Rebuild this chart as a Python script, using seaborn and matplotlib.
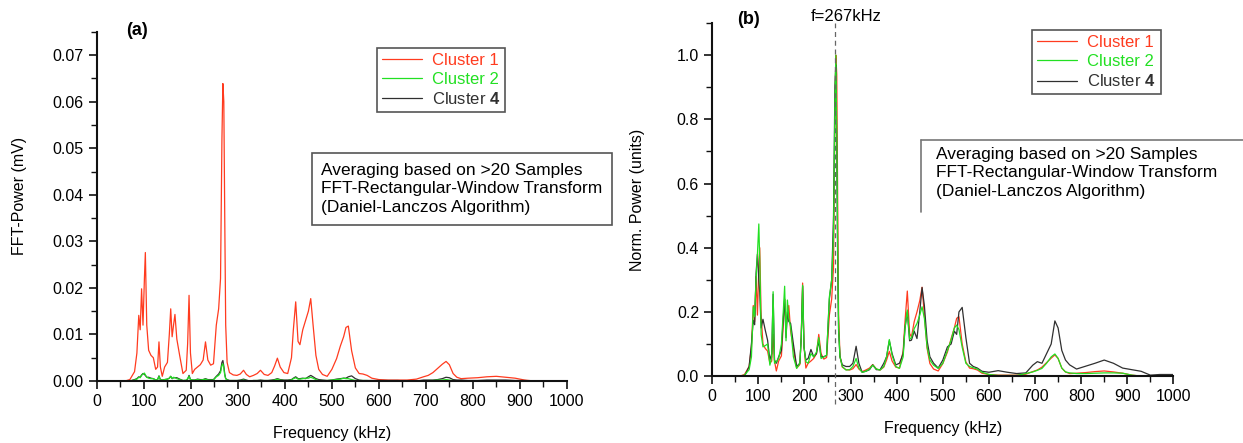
import numpy as np
import pandas as pd
import matplotlib
matplotlib.use("Agg")
import matplotlib.pyplot as plt
from matplotlib.ticker import MultipleLocator
from matplotlib.lines import Line2D
import seaborn as sns

# ---------------- data ----------------
freq_khz = [
    0, 60, 70, 80, 85, 89, 92, 95, 98, 101,
    103, 106, 110, 115, 120, 125, 129, 132, 135, 139,
    144, 150, 154, 157, 160, 163, 166, 170, 176, 183,
    190, 193, 196, 199, 203, 208, 214, 220, 226, 231,
    236, 242, 248, 254, 259, 263, 266, 268, 270, 272,
    274, 277, 282, 290, 298, 305, 312, 318, 325, 333,
    341, 348, 356, 364, 372, 378, 384, 390, 398, 406,
    414, 418, 423, 428, 432, 438, 444, 450, 455, 460,
    466, 472, 480, 490, 500, 510, 518, 525, 530, 535,
    542, 550, 558, 566, 575, 585, 600, 620, 640, 660,
    680, 695, 705, 715, 725, 735, 743, 750, 758, 766,
    775, 790, 810, 830, 850, 870, 890, 910, 930, 950,
    970, 1000,
]

# Panel (a): FFT power (mV)
cluster1_power = [
    0, 0, 0.0003, 0.002, 0.006, 0.0141, 0.011, 0.0198, 0.012, 0.022,
    0.0276, 0.012, 0.0066, 0.0055, 0.005, 0.0025, 0.003, 0.0084, 0.003, 0.001,
    0.003, 0.004, 0.010, 0.0155, 0.0095, 0.012, 0.0143, 0.009, 0.0055, 0.0016,
    0.0023, 0.008, 0.0184, 0.006, 0.0016, 0.0025, 0.003, 0.0035, 0.0045, 0.0084,
    0.0045, 0.0034, 0.0037, 0.012, 0.0155, 0.022, 0.052, 0.0639, 0.060, 0.035,
    0.012, 0.004, 0.0018, 0.0013, 0.0012, 0.0015, 0.0023, 0.0014, 0.0009, 0.0012,
    0.0016, 0.0023, 0.0014, 0.0012, 0.0018, 0.0032, 0.0049, 0.003, 0.0018, 0.0016,
    0.005, 0.011, 0.017, 0.0085, 0.0078, 0.011, 0.013, 0.015, 0.0177, 0.012,
    0.0055, 0.0025, 0.0014, 0.001, 0.0025, 0.0048, 0.0075, 0.0095, 0.0115, 0.0118,
    0.0065, 0.0028, 0.0016, 0.0015, 0.0012, 0.0006, 0.0003, 0.0002, 0.0002, 0.0002,
    0.0004, 0.0009, 0.0012, 0.0018, 0.0027, 0.0036, 0.0042, 0.0035, 0.0016, 0.0008,
    0.0005, 0.0006, 0.0007, 0.0009, 0.001, 0.0008, 0.0006, 0.0002, 0, 0,
    0, 0,
]
cluster2_power = [
    0, 0, 0, 0.0002, 0.0004, 0.0008, 0.0007, 0.0012, 0.0015, 0.0017,
    0.0013, 0.0008, 0.0006, 0.0005, 0.0005, 0.0002, 0.0003, 0.001, 0.0002, 0.0002,
    0.0003, 0.0004, 0.0006, 0.001, 0.0005, 0.0008, 0.0007, 0.0005, 0.0003, 0.0001,
    0.0002, 0.0005, 0.001, 0.0003, 0.0002, 0.0002, 0.0003, 0.0002, 0.0003, 0.0004,
    0.0002, 0.0002, 0.0002, 0.0009, 0.0012, 0.0018, 0.0034, 0.0037, 0.0028, 0.0012,
    0.0005, 0.0002, 0.0001, 0.0001, 0.0001, 0.0001, 0.0002, 0.0001, 0, 0.0001,
    0.0001, 0.0001, 0.0001, 0.0001, 0.0001, 0.0002, 0.0004, 0.0002, 0.0001, 0.0001,
    0.0002, 0.0005, 0.0007, 0.0004, 0.0004, 0.0005, 0.0006, 0.0006, 0.0008, 0.0006,
    0.0003, 0.0001, 0.0001, 0.0001, 0.0002, 0.0003, 0.0004, 0.0006, 0.0005, 0.0005,
    0.0003, 0.0001, 0.0001, 0.0001, 0.0001, 0, 0, 0, 0, 0,
    0, 0, 0.0001, 0.0001, 0.0002, 0.0002, 0.0003, 0.0002, 0.0001, 0,
    0, 0, 0, 0, 0, 0, 0, 0, 0, 0,
    0, 0,
]
cluster4_power = [
    0, 0, 0, 0.0003, 0.0005, 0.0009, 0.0008, 0.0013, 0.0016, 0.0014,
    0.0012, 0.0008, 0.0008, 0.0006, 0.0005, 0.0002, 0.0003, 0.0011, 0.0003, 0.0002,
    0.0003, 0.0004, 0.0006, 0.001, 0.0005, 0.0007, 0.0007, 0.0007, 0.0004, 0.0001,
    0.0001, 0.0004, 0.0012, 0.0003, 0.0002, 0.0002, 0.0004, 0.0003, 0.0003, 0.0005,
    0.0003, 0.0003, 0.0003, 0.001, 0.0015, 0.0022, 0.004, 0.0044, 0.0032, 0.0015,
    0.0005, 0.0003, 0.0001, 0.0001, 0.0001, 0.0002, 0.0004, 0.0002, 0, 0.0001,
    0.0001, 0.0002, 0.0001, 0.0001, 0.0002, 0.0003, 0.0005, 0.0003, 0.0002, 0.0002,
    0.0003, 0.0006, 0.0009, 0.0005, 0.0005, 0.0006, 0.0005, 0.0009, 0.0012, 0.0009,
    0.0005, 0.0003, 0.0002, 0.0001, 0.0002, 0.0004, 0.0005, 0.0006, 0.0006, 0.0009,
    0.0011, 0.0005, 0.0002, 0.0001, 0.0001, 0.0001, 0.0001, 0.0001, 0.0001, 0,
    0, 0.0002, 0.0002, 0.0002, 0.0003, 0.0005, 0.0008, 0.0007, 0.0003, 0.0002,
    0.0002, 0.0001, 0.0001, 0.0002, 0.0002, 0.0002, 0.0001, 0.0001, 0, 0,
    0, 0,
]

# Panel (b): normalised power (units)
cluster1_norm = [
    0, 0, 0.005, 0.03, 0.09, 0.22, 0.17, 0.31, 0.19, 0.34,
    0.40, 0.19, 0.10, 0.086, 0.078, 0.04, 0.047, 0.13, 0.047, 0.016,
    0.047, 0.063, 0.16, 0.24, 0.15, 0.19, 0.22, 0.14, 0.086, 0.025,
    0.036, 0.125, 0.29, 0.094, 0.025, 0.04, 0.047, 0.055, 0.07, 0.13,
    0.07, 0.053, 0.058, 0.19, 0.24, 0.34, 0.81, 1.0, 0.94, 0.55,
    0.19, 0.063, 0.028, 0.02, 0.019, 0.023, 0.036, 0.022, 0.014, 0.019,
    0.025, 0.036, 0.022, 0.019, 0.028, 0.05, 0.077, 0.047, 0.028, 0.025,
    0.078, 0.17, 0.265, 0.133, 0.122, 0.17, 0.2, 0.235, 0.277, 0.19,
    0.086, 0.039, 0.022, 0.016, 0.039, 0.075, 0.117, 0.15, 0.18, 0.185,
    0.10, 0.044, 0.025, 0.023, 0.019, 0.009, 0.005, 0.003, 0.003, 0.003,
    0.006, 0.014, 0.019, 0.028, 0.042, 0.056, 0.066, 0.055, 0.025, 0.013,
    0.008, 0.009, 0.011, 0.014, 0.016, 0.013, 0.009, 0.003, 0, 0,
    0, 0,
]
cluster2_norm = [
    0, 0, 0.003, 0.02, 0.06, 0.216, 0.185, 0.30, 0.38, 0.474,
    0.36, 0.13, 0.091, 0.095, 0.10, 0.034, 0.06, 0.263, 0.04, 0.045,
    0.055, 0.10, 0.20, 0.28, 0.11, 0.237, 0.18, 0.154, 0.06, 0.024,
    0.04, 0.12, 0.283, 0.09, 0.045, 0.04, 0.07, 0.06, 0.075, 0.12,
    0.055, 0.06, 0.065, 0.247, 0.30, 0.44, 0.85, 1.0, 0.76, 0.40,
    0.15, 0.06, 0.03, 0.019, 0.02, 0.03, 0.055, 0.025, 0.012, 0.015,
    0.022, 0.034, 0.022, 0.019, 0.03, 0.06, 0.114, 0.065, 0.03, 0.024,
    0.06, 0.15, 0.206, 0.115, 0.12, 0.148, 0.164, 0.19, 0.216, 0.18,
    0.09, 0.05, 0.034, 0.024, 0.04, 0.08, 0.112, 0.15, 0.159, 0.145,
    0.09, 0.04, 0.03, 0.026, 0.022, 0.012, 0.005, 0.002, 0.002, 0.002,
    0.008, 0.013, 0.018, 0.024, 0.04, 0.06, 0.069, 0.055, 0.025, 0.013,
    0.01, 0.008, 0.008, 0.009, 0.01, 0.01, 0.009, 0.003, 0, 0,
    0, 0,
]
cluster4_norm = [
    0, 0, 0, 0.03, 0.10, 0.174, 0.16, 0.32, 0.38, 0.30,
    0.26, 0.15, 0.177, 0.143, 0.112, 0.05, 0.07, 0.255, 0.05, 0.04,
    0.06, 0.08, 0.18, 0.24, 0.12, 0.20, 0.17, 0.164, 0.10, 0.03,
    0.04, 0.12, 0.28, 0.09, 0.05, 0.055, 0.083, 0.06, 0.07, 0.11,
    0.06, 0.06, 0.065, 0.24, 0.30, 0.50, 0.90, 0.97, 0.70, 0.35,
    0.14, 0.06, 0.035, 0.03, 0.03, 0.04, 0.093, 0.04, 0.012, 0.015,
    0.02, 0.035, 0.02, 0.02, 0.04, 0.06, 0.11, 0.07, 0.035, 0.04,
    0.07, 0.15, 0.20, 0.11, 0.112, 0.14, 0.117, 0.20, 0.276, 0.22,
    0.11, 0.06, 0.04, 0.025, 0.05, 0.091, 0.10, 0.14, 0.13, 0.20,
    0.214, 0.12, 0.04, 0.03, 0.025, 0.015, 0.012, 0.017, 0.012, 0.008,
    0.01, 0.034, 0.045, 0.04, 0.07, 0.10, 0.172, 0.15, 0.08, 0.05,
    0.035, 0.022, 0.031, 0.04, 0.05, 0.04, 0.025, 0.02, 0.015, 0.003,
    0.005, 0.005,
]

series_labels = ["Cluster 1", "Cluster 2", "Cluster $\\mathbf{4}$"]
peak_freq = 267
x_ticks = [0, 100, 200, 300, 400, 500, 600, 700, 800, 900, 1000]
info_text = ("Averaging based on >20 Samples\n"
             "FFT-Rectangular-Window Transform\n"
             "(Daniel-Lanczos Algorithm)")

# ---------------- style ----------------
sns.set_style("ticks")
plt.rcParams["font.family"] = ["Liberation Sans", "DejaVu Sans"]
plt.rcParams["mathtext.fontset"] = "custom"
plt.rcParams["mathtext.bf"] = "Liberation Sans:bold"
plt.rcParams["mathtext.rm"] = "Liberation Sans"
plt.rcParams["text.color"] = "black"
plt.rcParams["axes.labelcolor"] = "black"
plt.rcParams["xtick.color"] = "black"
plt.rcParams["ytick.color"] = "black"

RED = "#ff3b1f"
GREEN = "#22e022"
BLACK = "#303030"

fig = plt.figure(figsize=(12.43, 4.43), dpi=100)
ax_a = fig.add_axes([0.078, 0.140, 0.378, 0.788])
ax_b = fig.add_axes([0.573, 0.151, 0.371, 0.797])


def draw_panel(ax, y1, y2, y4):
    df = pd.DataFrame({"f": freq_khz, "c1": y1, "c2": y2, "c4": y4})
    sns.lineplot(data=df, x="f", y="c1", ax=ax, color=RED, lw=0.9,
                 estimator=None, sort=False)
    h1 = ax.lines[-1]
    sns.lineplot(data=df, x="f", y="c4", ax=ax, color=BLACK, lw=0.9,
                 estimator=None, sort=False)
    h4 = ax.lines[-1]
    sns.lineplot(data=df, x="f", y="c2", ax=ax, color=GREEN, lw=0.9,
                 estimator=None, sort=False)
    h2 = ax.lines[-1]
    return [h1, h2, h4]


def style_axes(ax):
    sns.despine(ax=ax)
    for s in ("left", "bottom"):
        ax.spines[s].set_linewidth(1.5)
        ax.spines[s].set_color("#111111")
    ax.set_xlim(0, 1000)
    ax.set_xticks(x_ticks)
    ax.xaxis.set_minor_locator(MultipleLocator(50))
    ax.tick_params(which="major", direction="out", length=6, width=1.2,
                   labelsize=11.5, color="#111111")
    ax.tick_params(which="minor", direction="out", length=4, width=1.0,
                   color="#111111")
    ax.set_xlabel("Frequency (kHz)", fontsize=11.5, labelpad=12)


# Panel (a)
handles_a = draw_panel(ax_a, cluster1_power, cluster2_power, cluster4_power)
style_axes(ax_a)
ax_a.set_ylim(0, 0.075)
ax_a.yaxis.set_major_locator(MultipleLocator(0.01))
ax_a.yaxis.set_minor_locator(MultipleLocator(0.005))
ax_a.yaxis.set_major_formatter(matplotlib.ticker.FormatStrFormatter("%.2f"))
ax_a.set_ylabel("FFT-Power (mV)", fontsize=11.5)
ax_a.yaxis.set_label_coords(-0.149, 0.53)
leg_a = ax_a.legend(handles_a, series_labels, loc="upper left",
                    bbox_to_anchor=(0.596, 0.954), borderaxespad=0,
                    fontsize=12, handlelength=2.4, frameon=True, fancybox=False,
                    edgecolor="#555555", framealpha=1, labelcolor="linecolor",
                    borderpad=0.3, labelspacing=0.25, handletextpad=0.6)
leg_a.get_frame().set_linewidth(1.2)
ax_a.text(0.477, 0.625, info_text, transform=ax_a.transAxes, fontsize=12.5,
          va="top", ha="left", linespacing=1.3,
          bbox=dict(boxstyle="square,pad=0.55", fc="white", ec="#555555", lw=1.2))
fig.text(0.110, 0.932, "(a)", fontsize=13, fontweight="bold", ha="center", va="center")

# Panel (b)
handles_b = draw_panel(ax_b, cluster1_norm, cluster2_norm, cluster4_norm)
style_axes(ax_b)
ax_b.set_ylim(0, 1.1)
ax_b.yaxis.set_major_locator(MultipleLocator(0.2))
ax_b.yaxis.set_minor_locator(MultipleLocator(0.1))
ax_b.yaxis.set_major_formatter(matplotlib.ticker.FormatStrFormatter("%.1f"))
ax_b.set_ylabel("Norm. Power (units)", fontsize=11.5)
ax_b.yaxis.set_label_coords(-0.145, 0.50)
ax_b.axvline(peak_freq, ymin=-0.08, ymax=1.0, clip_on=False, ls=(0, (4, 3)),
             color="#666666", lw=0.9, zorder=5)
ax_b.annotate(f"f={peak_freq}kHz", xy=(peak_freq, 1.0),
              xycoords=("data", "axes fraction"), xytext=(8, -1),
              textcoords="offset points", ha="center", va="bottom", fontsize=12)
leg_b = ax_b.legend(handles_b, series_labels, loc="upper left",
                    bbox_to_anchor=(0.694, 0.98), borderaxespad=0,
                    fontsize=12, handlelength=2.4, frameon=True, fancybox=False,
                    edgecolor="#555555", framealpha=1, labelcolor="linecolor",
                    borderpad=0.3, labelspacing=0.25, handletextpad=0.6)
leg_b.get_frame().set_linewidth(1.2)
# open text frame (left and top edges only, running off the right edge)
ax_b.text(0.486, 0.650, info_text, transform=ax_b.transAxes, fontsize=12.5,
          va="top", ha="left", linespacing=1.3)
ax_b.add_line(Line2D([0.453, 0.453], [0.465, 0.669], transform=ax_b.transAxes,
                     color="#777777", lw=1.2, clip_on=False))
ax_b.add_line(Line2D([0.453, 1.2], [0.669, 0.669], transform=ax_b.transAxes,
                     color="#777777", lw=1.2, clip_on=False))
fig.text(0.602, 0.955, "(b)", fontsize=13, fontweight="bold", ha="center", va="center")

fig.savefig("out.png", dpi=100)
